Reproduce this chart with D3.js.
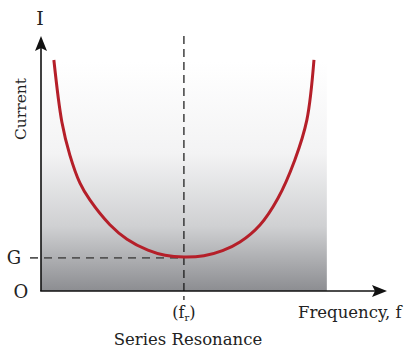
<!DOCTYPE html>
<html>
<head>
<meta charset="utf-8">
<script src="https://cdn.jsdelivr.net/npm/d3@7/dist/d3.min.js"></script>
<style>
  html, body { margin: 0; padding: 0; background: #fff; }
  svg { display: block; }
  text { font-family: "DejaVu Serif", "Liberation Serif", serif; fill: #222; }
</style>
</head>
<body>
<div id="chart"></div>
<script>
// Series resonance: current vs frequency (arbitrary units)
const frequency = [4.5, 7.3, 10.1, 13.6, 17.1, 24.1, 30.1, 37.4, 43.4, 50, 57.0, 63.5, 69.6, 76.6, 82.9, 88.8, 93.0, 95.5];
const current   = [90.6, 66.3, 53.3, 42.4, 35.7, 26.0, 20.3, 16.0, 14.0, 13.3, 13.8, 15.8, 19.2, 25.9, 36.4, 51.4, 67.0, 90.6];
const resonantFrequency = 50;
const minimumCurrent = 13;
const shadedFrequencyMax = 100;
const shadedCurrentMax = 90;
const axisFrequencyMax = 120;
const axisCurrentMax = 100;

const W = 405, H = 353;
const svg = d3.select("#chart").append("svg").attr("width", W).attr("height", H);

const x = d3.scaleLinear().domain([0, axisFrequencyMax]).range([41, 384]);
const y = d3.scaleLinear().domain([0, axisCurrentMax]).range([291, 36]);

// background gradient under the curve region
const defs = svg.append("defs");
const grad = defs.append("linearGradient").attr("id", "shade")
  .attr("x1", 0).attr("y1", 0).attr("x2", 0).attr("y2", 1);
[[0, "#ffffff"], [0.4, "#f3f3f4"], [0.72, "#cfd0d2"], [1, "#8c8d91"]].forEach(([o, c]) =>
  grad.append("stop").attr("offset", o).attr("stop-color", c));

svg.append("rect")
  .attr("x", x(0)).attr("y", y(shadedCurrentMax))
  .attr("width", x(shadedFrequencyMax) - x(0))
  .attr("height", y(0) - y(shadedCurrentMax))
  .attr("fill", "url(#shade)");

// guide lines at resonance
svg.append("line")
  .attr("x1", x(resonantFrequency)).attr("x2", x(resonantFrequency))
  .attr("y1", y(axisCurrentMax)).attr("y2", y(0) + 9)
  .attr("stroke", "#111").attr("stroke-width", 1.2).attr("stroke-dasharray", "8,5");

svg.append("line")
  .attr("x1", 30).attr("x2", x(resonantFrequency))
  .attr("y1", y(minimumCurrent)).attr("y2", y(minimumCurrent))
  .attr("stroke", "#555").attr("stroke-width", 1.6).attr("stroke-dasharray", "8,6");

// response curve
const line = d3.line().x((d, i) => x(frequency[i])).y(d => y(d)).curve(d3.curveCatmullRom.alpha(0.5));
svg.append("path").datum(current)
  .attr("d", line)
  .attr("fill", "none").attr("stroke", "#b51f29").attr("stroke-width", 3);

// axes with arrowheads
const ax = x(0), ay = y(0);
svg.append("line").attr("x1", ax).attr("y1", ay).attr("x2", ax).attr("y2", y(axisCurrentMax) + 8)
  .attr("stroke", "#111").attr("stroke-width", 1.6);
svg.append("line").attr("x1", ax - 0.8).attr("y1", ay).attr("x2", 379).attr("y2", ay)
  .attr("stroke", "#111").attr("stroke-width", 1.6);
svg.append("path")
  .attr("d", `M${ax},${y(axisCurrentMax)} L${ax - 6},${y(axisCurrentMax) + 15} L${ax},${y(axisCurrentMax) + 12} L${ax + 6},${y(axisCurrentMax) + 15} Z`)
  .attr("fill", "#111");
svg.append("path")
  .attr("d", `M387,${ay} L372,${ay - 6} L375,${ay} L372,${ay + 6} Z`)
  .attr("fill", "#111");

// labels
svg.append("text").attr("x", ax - 1).attr("y", 25).attr("text-anchor", "middle")
  .attr("font-size", 19).text("I");
svg.append("text").attr("transform", "translate(26,109) rotate(-90)")
  .attr("text-anchor", "middle").attr("font-size", 15.5).text("Current");
svg.append("text").attr("x", 14).attr("y", y(minimumCurrent) + 6.5).attr("text-anchor", "middle")
  .attr("font-size", 18).text("G");
svg.append("text").attr("x", 21).attr("y", ay + 7).attr("text-anchor", "middle")
  .attr("font-size", 18).text("O");

const fr = svg.append("text").attr("x", x(resonantFrequency)).attr("y", 318)
  .attr("text-anchor", "middle").attr("font-size", 16);
fr.append("tspan").text("(f");
fr.append("tspan").attr("font-size", 10).attr("dy", 3).text("r");
fr.append("tspan").attr("dy", -3).text(")");

svg.append("text").attr("x", 298).attr("y", 318).attr("font-size", 16.5).text("Frequency, f");
svg.append("text").attr("x", 188).attr("y", 345).attr("text-anchor", "middle")
  .attr("font-size", 16.5).text("Series Resonance");
</script>
</body>
</html>
